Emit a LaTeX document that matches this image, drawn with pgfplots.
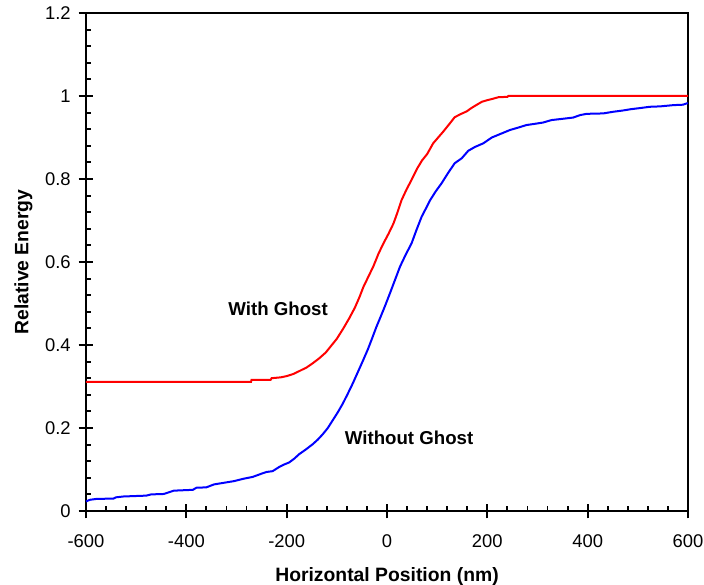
\documentclass[border=0pt]{standalone}
\usepackage{pgfplots}
\pgfplotsset{compat=1.18}
\usepackage{fontspec}
\setmainfont{Liberation Sans}
\begin{document}
\begin{tikzpicture}
\begin{axis}[
  scale only axis,
  width=451.5pt, height=373.5pt,
  xmin=-600, xmax=600, ymin=0, ymax=1.2,
  xtick={-600,-400,...,600},
  ytick={0,0.2,...,1.2},
  yticklabels={0,0.2,0.4,0.6,0.8,1,1.2},
  minor x tick num=4,
  minor y tick num=4,
  tick pos=left,
  tick align=inside,
  major tick length=5pt,
  minor tick length=3.75pt,
  extra x ticks={-600,-400,...,600},
  extra x tick labels={},
  extra y ticks={0,0.2,...,1.2},
  extra y tick labels={},
  extra tick style={tick align=outside, major tick length=5.5pt},
  axis line style={line width=1.6pt},
  every tick/.style={black, line width=1.4pt},
  /pgf/number format/assume math mode=true,
  ticklabel style={font=\fontsize{13.8}{16}\selectfont},
  xticklabel style={yshift=-14.5pt},
  yticklabel style={xshift=-8pt},
  xlabel={\bfseries Horizontal Position (nm)},
  ylabel={\bfseries Relative Energy},
  label style={font=\fontsize{14.5}{17}\selectfont},
  xlabel style={yshift=-2pt},
  ylabel style={yshift=-3pt},
  clip=false,
]
\coordinate (O) at (rel axis cs:0,0);
\addplot[red, line width=1.5pt] coordinates {
(-600,0.311) (-271,0.311) (-270,0.316) (-232,0.316) (-230,0.32) (-212,0.322) (-200,0.325) (-187,0.33) (-175,0.337) (-160,0.346) (-148,0.356) (-135,0.368) (-122,0.382) (-110,0.400) (-100,0.415) (-87,0.440) (-75,0.465) (-64,0.490) (-55,0.515) (-47,0.540) (-37,0.565) (-27,0.590) (-17,0.620) (-7,0.645) (3,0.668) (13,0.693) (21,0.72) (29,0.749) (39,0.775) (49,0.798) (60,0.825) (70,0.845) (80,0.860) (92,0.886) (102,0.900) (112,0.914) (124,0.932) (135,0.949) (148,0.957) (159,0.963) (167,0.970) (175,0.976) (189,0.986) (200,0.990) (210,0.993) (222,0.997) (240,0.998) (242,1.0) (600,1.0)
};
\addplot[blue, line width=1.5pt] coordinates {
(-600,0.023) (-592,0.027) (-580,0.029) (-545,0.030) (-540,0.033) (-525,0.035) (-480,0.037) (-470,0.040) (-445,0.041) (-425,0.049) (-387,0.051) (-380,0.056) (-360,0.057) (-345,0.064) (-325,0.068) (-305,0.072) (-285,0.078) (-268,0.082) (-250,0.090) (-240,0.094) (-228,0.096) (-215,0.106) (-205,0.112) (-195,0.117) (-185,0.126) (-175,0.137) (-162,0.148) (-148,0.161) (-138,0.172) (-128,0.185) (-118,0.200) (-108,0.219) (-98,0.238) (-88,0.259) (-78,0.283) (-68,0.308) (-58,0.335) (-48,0.362) (-38,0.390) (-30,0.415) (-21,0.444) (-12,0.470) (-3,0.497) (6,0.525) (16,0.557) (26,0.589) (37,0.617) (49,0.645) (59,0.678) (69,0.709) (78,0.730) (86,0.749) (97,0.770) (109,0.790) (122,0.815) (135,0.838) (149,0.850) (162,0.868) (175,0.877) (192,0.886) (209,0.900) (225,0.908) (245,0.918) (262,0.924) (278,0.930) (295,0.933) (311,0.936) (328,0.942) (350,0.945) (371,0.948) (385,0.954) (398,0.957) (431,0.958) (451,0.962) (470,0.965) (485,0.968) (505,0.971) (524,0.974) (545,0.975) (571,0.978) (590,0.979) (597,0.982) (600,0.982)
};
\node[font=\fontsize{14}{17}\selectfont\bfseries] at (axis cs:-217,0.487) {With Ghost};
\node[font=\fontsize{14}{17}\selectfont\bfseries] at (axis cs:44,0.176) {Without Ghost};
\end{axis}
\pgfresetboundingbox
\path (O) ++(-64.5pt,-55.5pt) rectangle ++(528pt,438.75pt);
\end{tikzpicture}
\end{document}
